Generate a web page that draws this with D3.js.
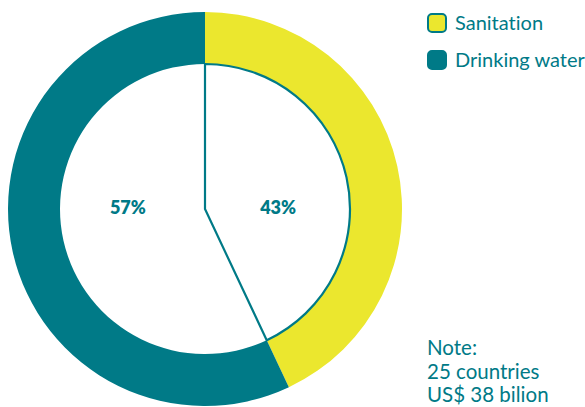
<!DOCTYPE html>
<html>
<head>
<meta charset="utf-8">
<script src="https://cdn.jsdelivr.net/npm/d3@7"></script>
<style>
  html, body { margin: 0; padding: 0; background: #ffffff; }
  svg { display: block; }
  text { font-family: "Lato", "Open Sans", sans-serif; font-variant-ligatures: none; }
</style>
</head>
<body>
<script>
// Share of spending by sector
const categories = ["Sanitation", "Drinking water"];
const shares = [43, 57];
const colors = ["#ebe72e", "#007a87"];
const noteLines = ["Note:", "25 countries", "US$ 38 bilion"];

const W = 585, H = 407;
const cx = 205, cy = 209, outerR = 197, innerR = 145;
const teal = "#007a87";

const svg = d3.select("body").append("svg")
  .attr("width", W).attr("height", H);

const data = categories.map((c, i) => ({ name: c, value: shares[i] }));
const pie = d3.pie().sort(null).value(d => d.value);
const arcs = pie(data);

const ring = d3.arc().innerRadius(innerR).outerRadius(outerR);
const wedge = d3.arc().innerRadius(0).outerRadius(innerR);

const g = svg.append("g").attr("transform", `translate(${cx},${cy})`);

g.selectAll("path.ring")
  .data(arcs)
  .join("path")
  .attr("class", "ring")
  .attr("d", ring)
  .attr("fill", (d, i) => colors[i]);

// outline of the sanitation wedge inside the ring
g.append("path")
  .attr("d", wedge(arcs[0]))
  .attr("fill", "none")
  .attr("stroke", teal)
  .attr("stroke-width", 2.2)
  .attr("stroke-linejoin", "miter");

// percentage labels
const labelArc = d3.arc().innerRadius(0).outerRadius(154);
g.selectAll("text.pct")
  .data(arcs)
  .join("text")
  .attr("class", "pct")
  .attr("x", d => labelArc.centroid(d)[0] - 2)
  .attr("y", -2)
  .attr("text-anchor", "middle")
  .attr("dominant-baseline", "central")
  .attr("fill", teal)
  .attr("font-weight", 800)
  .attr("font-size", 18)
  .text(d => d.data.value + "%");

// legend
const legend = svg.append("g").attr("transform", "translate(427,13)");
const items = legend.selectAll("g")
  .data(data)
  .join("g")
  .attr("transform", (d, i) => `translate(0,${i * 37})`);
items.append("rect")
  .attr("x", 1).attr("y", 1)
  .attr("width", 18).attr("height", 18)
  .attr("rx", 4).attr("ry", 4)
  .attr("fill", (d, i) => colors[i])
  .attr("stroke", teal)
  .attr("stroke-width", 2);
items.append("text")
  .attr("x", 28).attr("y", 17)
  .attr("fill", teal)
  .attr("font-size", 20)
  .text(d => d.name);

// note
svg.append("g").attr("transform", "translate(427,355)")
  .selectAll("text")
  .data(noteLines)
  .join("text")
  .attr("x", 0)
  .attr("y", (d, i) => i * 23.5)
  .attr("fill", teal)
  .attr("font-size", 20.5)
  .text(d => d);
</script>
</body>
</html>
